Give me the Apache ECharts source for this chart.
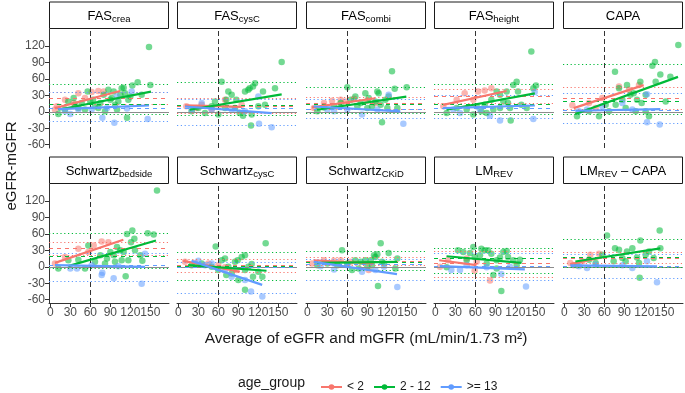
<!DOCTYPE html>
<html>
<head>
<meta charset="utf-8">
<script src="https://cdn.jsdelivr.net/npm/echarts@6/dist/echarts.min.js"></script>
<style>
html, body { margin: 0; padding: 0; background: #fff; }
#chart { width: 685px; height: 393px; }
</style>
</head>
<body>
<div id="chart"></div>
<script>
// facet labels (base + subscript)
const panelBase = ['FAS', 'FAS', 'FAS', 'FAS', 'CAPA', 'Schwartz', 'Schwartz', 'Schwartz', 'LM', 'LM'];
const panelSub = ['crea', 'cysC', 'combi', 'height', '', 'bedside', 'cysC', 'CKiD', 'REV', 'REV'];
const panelTail = ['', '', '', '', '', '', '', '', '', ' \u2013 CAPA'];

const groups = ['< 2', '2 - 12', '>= 13'];
const groupColors = ['#F8766D', '#00BA38', '#619CFF'];

const xTicks = [0, 30, 60, 90, 120, 150];
const yTicks = [-60, -30, 0, 30, 60, 90, 120];

// mean bias and limits of agreement, one value per panel
const biasLt2 = [24.7, 10, 16, 29, 24, 33, 2.4, 10.2, 7, 16];
const loLt2 = [13, -3, 5, 16, 5, 21, -10, 3, -19, 6];
const hiLt2 = [36, 24, 26, 42, 45, 45, 14, 17, 28, 26];
const biasMid = [14, 12.5, 14, 13, 20, 19, 0.5, 9, 15, 18];
const loMid = [-5, -6, -2, -4, -5, -3, -25, -7, -12, 0];
const hiMid = [51, 53, 45, 50, 86, 61, 27, 28, 33, 50];
const biasHi = [6, 6, 5, 6, 3.5, 3, -1, 5.5, 1, 1];
const loHi = [-17, -24, -11, -12, -21, -27, -49, -24, -25, -20];
const hiHi = [36, 22, 23.5, 31, 33, 24.5, 9, 13, 24, 22];

// regression line end points [x1, y1, x2, y2]
const fitLt2 = [[7,6.7,104.5,38],[10,12,95,9],[7,8,102,24.7],[11.75,12.7,106.75,37.9],[14,6.7,119,48.7],
  [7,7.2,109.5,49.2],[7.25,10.8,92.25,-9],[9.5,12,99.5,6],[5.75,12,61.75,3],[9,4.9,56.5,16.9]];
const fitMid = [[12,3.7,151,36.7],[17,3.7,155,31.9],[14.5,3.7,148.5,27.7],[16.75,3.7,149.25,33.7],[16.5,-4.1,170.5,63.7],
  [27,1.2,158.5,48],[14.75,3,132.25,-7.2],[14.5,7.2,134.5,9],[16.75,19.2,129.25,7.2],[16.5,9.7,144,33.7]];
const fitHi = [[12,5,148,11.5],[10,9.7,140,-2.3],[9.5,9.7,139.5,0.7],[11.75,6.7,149.25,11.5],[16.5,1.9,144,4.9],
  [7,3,142,0],[19.75,10.8,125.75,-33],[9.5,9,134.5,-13.2],[6.75,1.2,134.25,-4.8],[9,2.5,139,0.7]];

// points [average, difference] per panel
const ptsLt2 = [
  [[10,10],[22,22],[42,34],[52,25],[62,36],[72,38],[80,37],[35,16],[7,4]],
  [[12,10],[27,7],[70,22],[95,13],[50,4],[35,13]],
  [[10,7],[25,16],[37,20],[50,22],[70,24],[90,20],[102,16],[57,19]],
  [[12,10],[44,34],[64,37],[74,39],[84,43],[32,22],[57,22]],
  [[12,12],[37,16],[57,25],[82,46],[97,40],[112,49],[47,7]],
  [[7,6],[42,33],[65,39],[77,46],[87,45],[22,18],[57,27]],
  [[10,9],[25,7],[45,6],[70,-1],[87,-6],[60,3]],
  [[7,6],[25,12],[40,11],[65,9],[92,-6],[50,12]],
  [[7,0],[19,12],[47,15],[59,-7],[82,-25],[62,9]],
  [[9,7],[27,10],[39,22],[52,24],[14,3]]
];
const ptsMid = [
  [[12,-4],[27,19],[37,13],[42,7],[52,4],[56,37],[64,22],[72,7],[80,31],[87,40],[90,22],[95,37],[97,13],[100,4],[105,31],[107,43],[110,44],[112,34],[115,-11],[120,28],[123,48],[131,54],[137,31],[148,118],[150,49],[82,1],[67,10],[47,16],[22,4],[35,25],[92,25],[102,19],[117,22],[75,16],[60,19]],
  [[20,1],[30,7],[50,10],[55,19],[65,55],[72,22],[75,37],[80,31],[87,22],[92,-2],[100,37],[105,40],[107,43],[112,46],[115,52],[110,-5],[120,10],[127,37],[145,43],[155,91],[60,-5],[40,-2],[85,7],[97,-7],[130,13],[70,7],[109,-25]],
  [[15,1],[25,8],[40,10],[60,45],[65,22],[72,28],[75,10],[87,34],[92,25],[97,10],[105,37],[107,34],[110,13],[112,-19],[117,22],[122,28],[127,74],[131,42],[135,7],[149,45],[50,16],[80,16],[102,19],[120,7],[90,7]],
  [[17,-2],[32,7],[47,4],[62,10],[74,13],[84,22],[92,37],[97,31],[102,19],[107,37],[109,16],[112,7],[117,49],[122,55],[124,37],[129,13],[137,7],[144,110],[147,43],[151,48],[69,1],[87,4],[97,7],[77,-2],[57,-5],[113,-16]],
  [[19,-8],[37,1],[52,-8],[62,13],[76,73],[82,43],[87,22],[94,49],[99,31],[104,34],[109,22],[114,55],[116,16],[122,31],[127,-8],[132,84],[136,91],[137,55],[144,68],[152,19],[159,64],[171,122],[92,7],[107,1],[77,13],[67,1],[122,1]],
  [[12,-3],[27,12],[42,13],[52,-3],[57,39],[67,9],[75,21],[85,15],[90,27],[95,21],[100,36],[105,30],[110,27],[115,60],[117,12],[121,45],[123,66],[126,51],[127,30],[135,21],[138,11],[146,61],[155,59],[160,139],[113,-17],[97,9],[82,6],[107,12]],
  [[20,3],[35,6],[50,0],[56,37],[65,12],[70,15],[75,0],[80,-12],[85,9],[89,12],[90,-24],[95,18],[100,21],[100,-42],[105,0],[110,5],[112,-18],[120,-9],[126,-18],[131,43],[72,-15],[60,-6],[100,-6]],
  [[15,3],[30,6],[52,30],[67,-6],[72,12],[80,9],[87,12],[90,0],[95,12],[100,21],[102,18],[105,23],[106,-35],[110,43],[112,9],[122,25],[132,-3],[135,15],[45,3],[60,6],[77,-3],[115,6],[97,3]],
  [[17,-1],[34,30],[42,27],[52,25],[57,36],[59,18],[69,33],[74,30],[79,30],[84,24],[87,-15],[92,12],[97,17],[102,27],[107,29],[109,18],[99,-44],[117,12],[122,3],[127,13],[47,12],[77,6],[92,-3],[67,21]],
  [[19,3],[37,13],[57,22],[64,57],[76,34],[82,31],[87,16],[94,28],[102,34],[109,17],[113,-20],[114,48],[122,22],[127,28],[134,16],[144,34],[143,66],[92,10],[74,10],[112,7],[47,7]]
];
const ptsHi = [
  [[30,-4],[42,4],[78,-11],[96,-20],[122,37],[146,-13],[100,28],[85,7],[62,4],[115,6],[22,1]],
  [[35,16],[50,4],[120,28],[121,-22],[140,-28],[100,1],[80,4],[20,4]],
  [[30,4],[82,-5],[122,31],[144,-22],[105,4],[60,4],[40,1]],
  [[27,4],[82,-7],[97,-16],[147,-13],[149,36],[37,-2],[67,4]],
  [[22,1],[34,4],[57,10],[87,16],[124,-19],[143,-23],[124,32],[102,4]],
  [[30,-3],[40,-3],[77,-15],[78,-11],[95,-21],[137,-31],[142,24],[62,3],[102,1]],
  [[30,11],[40,3],[100,-24],[109,-45],[126,-54],[80,-18],[70,-6],[50,6]],
  [[20,1],[40,-5],[82,-9],[102,-6],[135,-37],[60,3],[115,0]],
  [[24,-6],[37,-6],[47,3],[99,-13],[136,-36],[77,-1],[112,0]],
  [[22,1],[34,-2],[47,4],[87,3],[102,-2],[139,-28],[124,10]]
];

const pts = [ptsLt2, ptsMid, ptsHi];
const fits = [fitLt2, fitMid, fitHi];
const bias = [biasLt2, biasMid, biasHi];
const lo = [loLt2, loMid, loHi];
const hi = [hiLt2, hiMid, hiHi];

// layout
const colLeft = [49, 177, 306, 434, 563];
const rowTop = [29, 184];
const panelW = 120, panelH = 119, stripH = 27.5;
const font = 'Liberation Sans, Arial, sans-serif';

const chart = echarts.init(document.getElementById('chart'));
const grids = [], xAxes = [], yAxes = [], series = [], graphics = [];

for (let i = 0; i < 10; i++) {
  const r = Math.floor(i / 5), c = i % 5;
  grids.push({ left: colLeft[c], top: rowTop[r], width: panelW, height: panelH });
  const showX = r === 1, showY = c === 0;
  xAxes.push({
    type: 'value', gridIndex: i, min: -2, max: 178,
    splitLine: { show: false },
    axisLine: { show: showX, onZero: false, lineStyle: { color: '#333', width: 1 } },
    axisTick: { show: showX, length: 4, customValues: xTicks, lineStyle: { color: '#333' } },
    axisLabel: { show: showX, customValues: xTicks, fontSize: 12, color: '#4d4d4d', margin: 4, fontFamily: font }
  });
  yAxes.push({
    type: 'value', gridIndex: i, min: -66, max: 151,
    splitLine: { show: false },
    axisLine: { show: showY, onZero: false, lineStyle: { color: '#333', width: 1 } },
    axisTick: { show: showY, length: 4, customValues: yTicks, lineStyle: { color: '#333' } },
    axisLabel: { show: showY, customValues: yTicks, fontSize: 12, color: '#4d4d4d', margin: 4, fontFamily: font }
  });

  // zero line + vertical line at 60
  series.push({
    type: 'line', xAxisIndex: i, yAxisIndex: i, data: [], z: 3,
    markLine: {
      silent: true, symbol: ['none', 'none'], label: { show: false }, animation: false,
      data: [
        { yAxis: 0, lineStyle: { color: '#8c8c8c', type: 'solid', width: 1 } },
        { xAxis: 60, lineStyle: { color: '#333', type: [5, 3], width: 1 } }
      ]
    }
  });

  // strip
  const sx = colLeft[c], sy = rowTop[r] - stripH;
  const rich = {
    b: { fontSize: 13, fontFamily: font, color: '#1a1a1a', lineHeight: 16 },
    s: { fontSize: 9.5, fontFamily: font, color: '#1a1a1a', verticalAlign: 'bottom', lineHeight: 11, padding: [5, 0, 0, 0] }
  };
  let txt = '{b|' + panelBase[i] + '}';
  if (panelSub[i]) txt += '{s|' + panelSub[i] + '}';
  if (panelTail[i]) txt += '{b|' + panelTail[i] + '}';
  graphics.push({
    type: 'rect', shape: { x: sx + 0.5, y: sy + 0.5, width: panelW - 1, height: stripH - 1 },
    style: { fill: '#fff', stroke: '#1a1a1a', lineWidth: 1 }
  });
  graphics.push({
    type: 'text', x: sx + panelW / 2, y: sy + stripH / 2 + 1,
    style: { text: txt, rich: rich, align: 'center', verticalAlign: 'middle' }
  });
}

// regression lines first so legend icons come from them
for (let i = 0; i < 10; i++) {
  for (let g = 0; g < 3; g++) {
    const f = fits[g][i];
    series.push({
      type: 'line', name: groups[g], xAxisIndex: i, yAxisIndex: i,
      data: [[f[0], f[1]], [f[2], f[3]]],
      symbol: 'circle', symbolSize: 5, showSymbol: false, z: 5,
      lineStyle: { color: groupColors[g], width: 2.2 },
      itemStyle: { color: groupColors[g] }
    });
  }
}

for (let i = 0; i < 10; i++) {
  for (let g = 0; g < 3; g++) {
    const col = groupColors[g];
    series.push({
      type: 'scatter', name: groups[g], xAxisIndex: i, yAxisIndex: i,
      data: pts[g][i], symbolSize: 6.5, z: 2,
      itemStyle: { color: col, opacity: 0.55 },
      markLine: {
        silent: true, symbol: ['none', 'none'], label: { show: false }, animation: false,
        data: [
          { yAxis: bias[g][i], lineStyle: { color: col, type: [4, 4], width: 1 } },
          { yAxis: lo[g][i], lineStyle: { color: col, type: [1.2, 2.6], width: 1.1 } },
          { yAxis: hi[g][i], lineStyle: { color: col, type: [1.2, 2.6], width: 1.1 } }
        ]
      }
    });
  }
}

// axis titles and legend title
graphics.push({
  type: 'text', x: 12, y: 166, rotation: Math.PI / 2,
  style: { text: 'eGFR-mGFR', fontSize: 15, fontFamily: font, fill: '#1a1a1a', align: 'center', verticalAlign: 'middle' }
});
graphics.push({
  type: 'text', x: 366, y: 339,
  style: { text: 'Average of eGFR and mGFR (mL/min/1.73 m\u00b2)', fontSize: 15.5, fontFamily: font, fill: '#1a1a1a', align: 'center', verticalAlign: 'middle' }
});
graphics.push({
  type: 'text', x: 238, y: 383,
  style: { text: 'age_group', fontSize: 14, fontFamily: font, fill: '#1a1a1a', align: 'left', verticalAlign: 'middle' }
});

chart.setOption({
  animation: false,
  textStyle: { fontFamily: font },
  grid: grids,
  xAxis: xAxes,
  yAxis: yAxes,
  legend: {
    data: groups, left: 315, top: 376, itemWidth: 21, itemHeight: 7, itemGap: 9,
    selectedMode: false,
    textStyle: { fontSize: 12, color: '#1a1a1a', fontFamily: font }
  },
  graphic: graphics,
  series: series
});
window.addEventListener('resize', () => chart.resize());
</script>
</body>
</html>
